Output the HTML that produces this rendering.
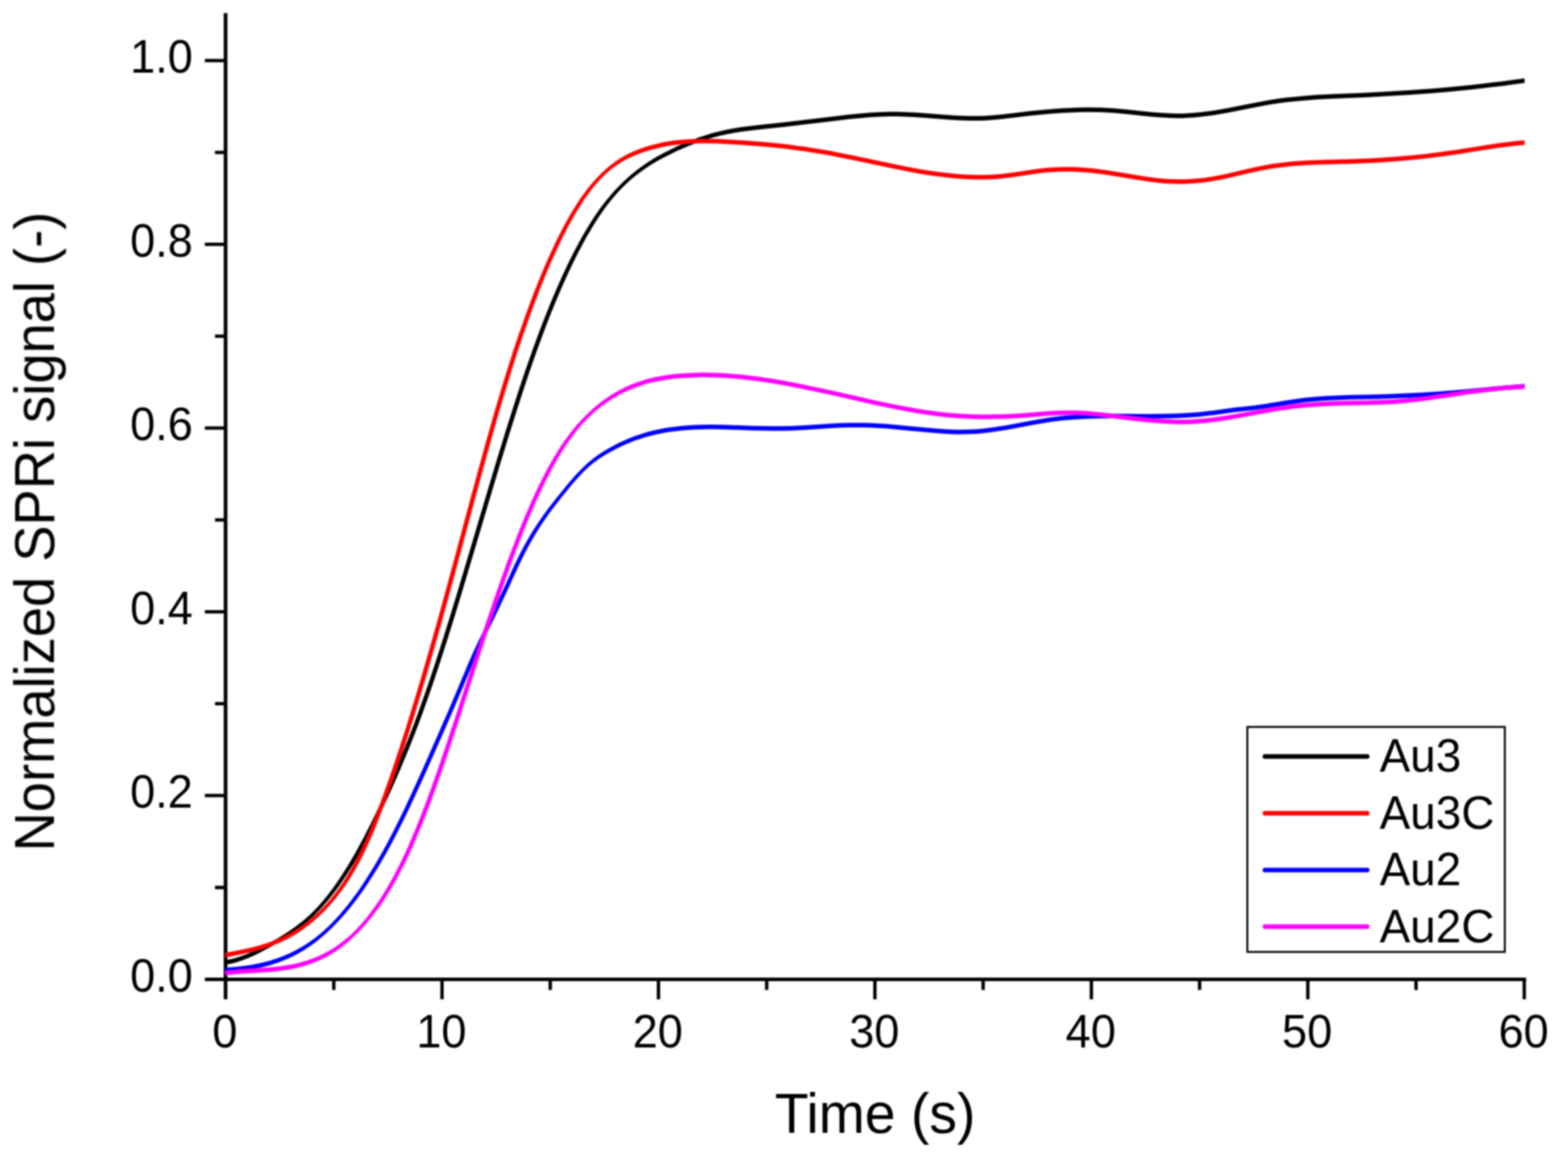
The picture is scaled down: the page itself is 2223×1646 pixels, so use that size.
<!DOCTYPE html>
<html lang="en"><head><meta charset="utf-8"><title>Normalized SPRi signal vs Time</title>
<style>
html,body{margin:0;padding:0;background:#fff;}
body{width:2223px;height:1646px;overflow:hidden;}
svg{display:block;}
text{font-family:"Liberation Sans",sans-serif;fill:#000;}
.ax{stroke:#000;stroke-width:5.2;fill:none;stroke-linecap:butt;}
.tk{stroke:#000;stroke-width:4.8;fill:none;stroke-linecap:butt;}
.c{fill:none;stroke-width:6.5;stroke-linejoin:round;stroke-linecap:butt;}
.k{fill:none;stroke-width:6.5;stroke-linecap:round;}
</style></head><body>
<svg width="2223" height="1646" viewBox="0 0 2223 1646">
<defs>
<clipPath id="plot"><rect x="319.2" y="0" width="1842.2" height="1388.5"/></clipPath>
<filter id="soft" filterUnits="userSpaceOnUse" x="-10" y="-10" width="2243" height="1666" color-interpolation-filters="sRGB"><feGaussianBlur in="SourceGraphic" stdDeviation="1.0"/></filter>
</defs>
<rect width="2223" height="1646" fill="#fff"/>
<g filter="url(#soft)">
<path class="ax" d="M319.8,18.6 V1416.7"/>
<path class="ax" d="M290.4,1388.5 H2163.6"/>
<path class="tk" d="M473.23,1388.5 v15.0 M626.67,1388.5 v28.2 M780.10,1388.5 v15.0 M933.53,1388.5 v28.2 M1086.97,1388.5 v15.0 M1240.40,1388.5 v28.2 M1393.83,1388.5 v15.0 M1547.27,1388.5 v28.2 M1700.70,1388.5 v15.0 M1854.13,1388.5 v28.2 M2007.57,1388.5 v15.0 M2161.00,1388.5 v28.2 M319.8,1258.23 h-15.0 M319.8,1127.96 h-29.4 M319.8,997.69 h-15.0 M319.8,867.42 h-29.4 M319.8,737.15 h-15.0 M319.8,606.88 h-29.4 M319.8,476.61 h-15.0 M319.8,346.34 h-29.4 M319.8,216.07 h-15.0 M319.8,85.80 h-29.4"/>
<g clip-path="url(#plot)">
<path fill="#000" d="M318.8,1361.3 L324.8,1360.3 L330.8,1358.9 L336.8,1357.2 L344.8,1354.5 L350.8,1352.2 L358.8,1348.7 L364.8,1345.9 L372.8,1341.8 L382.8,1336.4 L392.8,1330.7 L400.8,1325.9 L408.8,1320.8 L416.8,1315.3 L422.8,1310.8 L430.8,1304.4 L436.8,1299.3 L442.8,1293.7 L446.8,1289.8 L452.8,1283.5 L456.8,1279.0 L460.8,1274.4 L466.8,1267.0 L470.8,1261.8 L476.8,1253.7 L480.8,1248.0 L486.8,1239.1 L490.8,1232.9 L496.8,1223.2 L500.8,1216.5 L506.8,1206.2 L512.8,1195.4 L518.8,1184.2 L528.8,1164.7 L534.8,1152.5 L540.8,1139.9 L546.8,1127.0 L552.8,1113.8 L558.8,1100.2 L564.8,1086.3 L574.8,1062.4 L584.8,1037.3 L590.8,1021.6 L594.8,1010.8 L604.8,982.9 L612.8,959.5 L622.8,929.2 L630.8,904.2 L640.8,872.1 L648.8,845.9 L658.8,812.7 L692.8,698.2 L706.8,651.6 L720.8,606.0 L732.8,568.1 L740.8,543.7 L746.8,525.8 L752.8,508.5 L758.8,491.6 L766.8,469.8 L772.8,454.1 L778.8,438.8 L784.8,424.1 L792.8,405.2 L800.8,387.3 L808.8,370.3 L816.8,354.3 L824.8,339.2 L828.8,332.0 L832.8,325.1 L836.8,318.4 L840.8,312.0 L846.8,302.8 L850.8,297.0 L854.8,291.4 L858.8,286.1 L862.8,281.0 L866.8,276.1 L870.8,271.5 L874.8,267.1 L878.8,262.9 L882.8,258.8 L886.8,255.0 L890.8,251.3 L896.8,246.1 L904.8,239.7 L908.8,236.8 L914.8,232.5 L920.8,228.6 L926.8,224.8 L932.8,221.3 L938.8,218.0 L944.8,214.9 L952.8,210.9 L960.8,207.1 L966.8,204.5 L974.8,201.1 L980.8,198.7 L988.8,195.6 L994.8,193.5 L1002.8,190.9 L1008.8,189.1 L1016.8,186.9 L1022.8,185.4 L1030.8,183.7 L1038.8,182.2 L1048.8,180.6 L1058.8,179.2 L1070.8,177.8 L1112.8,173.2 L1186.8,164.4 L1202.8,162.6 L1216.8,161.2 L1232.8,159.8 L1246.8,158.9 L1260.8,158.5 L1272.8,158.5 L1284.8,158.9 L1296.8,159.5 L1310.8,160.5 L1342.8,163.0 L1358.8,164.0 L1366.8,164.3 L1374.8,164.5 L1382.8,164.6 L1390.8,164.5 L1400.8,164.0 L1412.8,163.0 L1422.8,162.0 L1462.8,157.3 L1478.8,155.7 L1492.8,154.5 L1506.8,153.5 L1518.8,152.9 L1530.8,152.5 L1542.8,152.3 L1552.8,152.4 L1560.8,152.6 L1568.8,153.0 L1578.8,153.6 L1594.8,155.0 L1632.8,158.9 L1642.8,159.7 L1650.8,160.3 L1660.8,160.7 L1668.8,160.9 L1676.8,160.9 L1684.8,160.6 L1692.8,160.1 L1702.8,159.1 L1710.8,158.1 L1720.8,156.7 L1730.8,155.0 L1740.8,153.2 L1782.8,145.0 L1798.8,142.1 L1806.8,140.7 L1814.8,139.5 L1822.8,138.5 L1832.8,137.4 L1848.8,135.9 L1866.8,134.6 L1886.8,133.6 L1936.8,131.5 L1962.8,130.1 L1996.8,128.0 L2028.8,125.7 L2046.8,124.2 L2062.8,122.7 L2080.8,120.9 L2096.8,119.2 L2114.8,117.1 L2130.8,115.2 L2146.8,113.1 L2162.8,110.8 L2162.8,117.3 L2146.8,119.6 L2130.8,121.7 L2114.8,123.6 L2096.8,125.7 L2080.8,127.4 L2062.8,129.2 L2046.8,130.7 L2028.8,132.2 L1996.8,134.5 L1962.8,136.6 L1936.8,138.0 L1886.8,140.1 L1866.8,141.1 L1848.8,142.4 L1832.8,143.9 L1822.8,145.0 L1814.8,146.0 L1806.8,147.2 L1798.8,148.6 L1782.8,151.5 L1740.8,159.7 L1730.8,161.5 L1720.8,163.2 L1710.8,164.6 L1702.8,165.6 L1692.8,166.6 L1684.8,167.1 L1676.8,167.4 L1668.8,167.4 L1660.8,167.2 L1650.8,166.8 L1642.8,166.2 L1632.8,165.4 L1594.8,161.5 L1578.8,160.1 L1568.8,159.5 L1560.8,159.1 L1552.8,158.9 L1542.8,158.8 L1530.8,159.0 L1518.8,159.4 L1506.8,160.0 L1492.8,161.0 L1478.8,162.2 L1462.8,163.8 L1422.8,168.5 L1412.8,169.5 L1400.8,170.5 L1390.8,171.0 L1382.8,171.1 L1374.8,171.0 L1366.8,170.8 L1358.8,170.5 L1342.8,169.5 L1310.8,167.0 L1296.8,166.0 L1284.8,165.4 L1272.8,165.0 L1260.8,165.0 L1246.8,165.4 L1232.8,166.3 L1216.8,167.7 L1202.8,169.1 L1186.8,170.9 L1112.8,179.7 L1070.8,184.3 L1058.8,185.7 L1048.8,187.1 L1038.8,188.7 L1030.8,190.2 L1022.8,191.9 L1016.8,193.4 L1008.8,195.6 L1002.8,197.4 L994.8,200.0 L988.8,202.1 L980.8,205.2 L974.8,207.6 L966.8,211.0 L960.8,213.6 L952.8,217.4 L944.8,221.4 L938.8,224.5 L932.8,227.8 L926.8,231.3 L920.8,235.1 L914.8,239.0 L908.8,243.3 L904.8,246.2 L896.8,252.6 L890.8,257.8 L886.8,261.5 L882.8,265.3 L878.8,269.4 L874.8,273.6 L870.8,278.0 L866.8,282.6 L862.8,287.5 L858.8,292.6 L854.8,297.9 L850.8,303.5 L846.8,309.3 L840.8,318.5 L836.8,324.9 L832.8,331.6 L828.8,338.5 L824.8,345.7 L816.8,360.8 L808.8,376.8 L800.8,393.8 L792.8,411.7 L784.8,430.6 L778.8,445.3 L772.8,460.6 L766.8,476.3 L758.8,498.1 L752.8,515.0 L746.8,532.3 L740.8,550.2 L732.8,574.6 L720.8,612.5 L706.8,658.1 L692.8,704.7 L658.8,819.2 L648.8,852.4 L640.8,878.6 L630.8,910.7 L622.8,935.7 L612.8,966.0 L604.8,989.4 L594.8,1017.3 L590.8,1028.1 L584.8,1043.8 L574.8,1068.9 L564.8,1092.8 L558.8,1106.7 L552.8,1120.3 L546.8,1133.5 L540.8,1146.4 L534.8,1159.0 L528.8,1171.2 L518.8,1190.7 L512.8,1201.9 L506.8,1212.7 L500.8,1223.0 L496.8,1229.7 L490.8,1239.4 L486.8,1245.6 L480.8,1254.5 L476.8,1260.2 L470.8,1268.3 L466.8,1273.5 L460.8,1280.9 L456.8,1285.5 L452.8,1290.0 L446.8,1296.3 L442.8,1300.2 L436.8,1305.8 L430.8,1310.9 L422.8,1317.3 L416.8,1321.8 L408.8,1327.3 L400.8,1332.4 L392.8,1337.2 L382.8,1342.9 L372.8,1348.3 L364.8,1352.4 L358.8,1355.2 L350.8,1358.7 L344.8,1361.0 L336.8,1363.7 L330.8,1365.4 L324.8,1366.8 L318.8,1367.8Z"/>
<path fill="#000" d="M315.6,1364.6 L321.6,1363.5 L327.6,1362.1 L333.6,1360.5 L341.6,1357.8 L347.6,1355.4 L355.6,1352.0 L361.6,1349.1 L369.6,1345.1 L379.6,1339.7 L389.6,1334.0 L397.6,1329.1 L405.6,1324.0 L413.6,1318.5 L419.6,1314.1 L427.6,1307.7 L433.6,1302.5 L439.6,1296.9 L443.6,1293.0 L449.6,1286.7 L453.6,1282.3 L457.6,1277.6 L463.6,1270.2 L467.6,1265.1 L473.6,1256.9 L477.6,1251.2 L483.6,1242.3 L487.6,1236.1 L493.6,1226.5 L497.6,1219.8 L503.6,1209.4 L509.5,1198.6 L515.5,1187.4 L525.5,1167.9 L531.5,1155.7 L537.5,1143.1 L543.5,1130.2 L549.5,1117.0 L555.5,1103.5 L561.5,1089.6 L571.5,1065.6 L581.5,1040.5 L587.5,1024.8 L591.5,1014.1 L601.5,986.1 L609.5,962.7 L619.5,932.4 L627.5,907.4 L637.5,875.4 L645.5,849.2 L655.5,816.0 L689.5,701.5 L703.5,654.8 L717.5,609.2 L729.5,571.4 L737.5,546.9 L743.5,529.1 L749.5,511.7 L755.5,494.8 L763.5,473.1 L769.5,457.3 L775.5,442.1 L781.5,427.3 L789.5,408.5 L797.5,390.6 L805.5,373.6 L813.5,357.6 L821.5,342.5 L825.5,335.3 L829.5,328.4 L833.5,321.7 L837.5,315.2 L843.5,306.0 L847.5,300.2 L851.5,294.6 L855.5,289.3 L859.5,284.2 L863.5,279.4 L867.5,274.8 L871.5,270.3 L875.5,266.1 L879.5,262.1 L883.5,258.2 L887.5,254.6 L893.5,249.4 L901.5,243.0 L905.5,240.0 L911.5,235.8 L917.5,231.8 L923.5,228.1 L929.5,224.6 L935.5,221.2 L941.5,218.1 L949.5,214.1 L957.5,210.4 L963.5,207.7 L971.5,204.3 L977.5,201.9 L985.5,198.9 L991.5,196.8 L999.5,194.1 L1005.5,192.3 L1013.5,190.1 L1019.5,188.7 L1027.5,186.9 L1035.5,185.4 L1045.5,183.8 L1055.5,182.5 L1067.5,181.1 L1109.5,176.5 L1183.5,167.7 L1199.5,165.9 L1213.5,164.4 L1229.5,163.0 L1243.5,162.2 L1257.5,161.7 L1269.5,161.7 L1281.5,162.1 L1293.5,162.7 L1307.5,163.7 L1339.5,166.2 L1355.5,167.2 L1363.5,167.6 L1371.5,167.8 L1379.5,167.8 L1387.5,167.7 L1397.5,167.2 L1409.5,166.3 L1419.5,165.2 L1459.5,160.6 L1475.5,159.0 L1489.5,157.8 L1503.5,156.8 L1515.5,156.2 L1527.5,155.8 L1539.5,155.6 L1549.5,155.7 L1557.5,155.9 L1565.5,156.2 L1575.5,156.9 L1591.5,158.3 L1629.5,162.1 L1639.5,163.0 L1647.5,163.5 L1657.5,164.0 L1665.5,164.2 L1673.5,164.1 L1681.5,163.8 L1689.5,163.3 L1699.5,162.4 L1707.5,161.4 L1717.5,159.9 L1727.5,158.3 L1737.5,156.5 L1779.5,148.2 L1795.5,145.3 L1803.5,144.0 L1811.5,142.8 L1819.5,141.7 L1829.5,140.6 L1845.5,139.1 L1863.5,137.9 L1883.5,136.8 L1933.5,134.7 L1959.5,133.4 L1993.5,131.3 L2025.5,128.9 L2043.5,127.4 L2059.6,126.0 L2077.6,124.2 L2093.6,122.5 L2111.6,120.4 L2127.6,118.4 L2143.6,116.3 L2159.6,114.1 L2166.1,114.1 L2150.1,116.3 L2134.1,118.4 L2118.1,120.4 L2100.1,122.5 L2084.1,124.2 L2066.1,126.0 L2050.1,127.4 L2032.0,128.9 L2000.0,131.3 L1966.0,133.4 L1940.0,134.7 L1890.0,136.8 L1870.0,137.9 L1852.0,139.1 L1836.0,140.6 L1826.0,141.7 L1818.0,142.8 L1810.0,144.0 L1802.0,145.3 L1786.0,148.2 L1744.0,156.5 L1734.0,158.3 L1724.0,159.9 L1714.0,161.4 L1706.0,162.4 L1696.0,163.3 L1688.0,163.8 L1680.0,164.1 L1672.0,164.2 L1664.0,164.0 L1654.0,163.5 L1646.0,163.0 L1636.0,162.1 L1598.0,158.3 L1582.0,156.9 L1572.0,156.2 L1564.0,155.9 L1556.0,155.7 L1546.0,155.6 L1534.0,155.8 L1522.0,156.2 L1510.0,156.8 L1496.0,157.8 L1482.0,159.0 L1466.0,160.6 L1426.0,165.2 L1416.0,166.3 L1404.0,167.2 L1394.0,167.7 L1386.0,167.8 L1378.0,167.8 L1370.0,167.6 L1362.0,167.2 L1346.0,166.2 L1314.0,163.7 L1300.0,162.7 L1288.0,162.1 L1276.0,161.7 L1264.0,161.7 L1250.0,162.2 L1236.0,163.0 L1220.0,164.4 L1206.0,165.9 L1190.0,167.7 L1116.0,176.5 L1074.0,181.1 L1062.0,182.5 L1052.0,183.8 L1042.0,185.4 L1034.0,186.9 L1026.0,188.7 L1020.0,190.1 L1012.0,192.3 L1006.0,194.1 L998.0,196.8 L992.0,198.9 L984.0,201.9 L978.0,204.3 L970.0,207.7 L964.0,210.4 L956.0,214.1 L948.0,218.1 L942.0,221.2 L936.0,224.6 L930.0,228.1 L924.0,231.8 L918.0,235.8 L912.0,240.0 L908.0,243.0 L900.0,249.4 L894.0,254.6 L890.0,258.2 L886.0,262.1 L882.0,266.1 L878.0,270.3 L874.0,274.8 L870.0,279.4 L866.0,284.2 L862.0,289.3 L858.0,294.6 L854.0,300.2 L850.0,306.0 L844.0,315.2 L840.0,321.7 L836.0,328.4 L832.0,335.3 L828.0,342.5 L820.0,357.6 L812.0,373.6 L804.0,390.6 L796.0,408.5 L788.0,427.3 L782.0,442.1 L776.0,457.3 L770.0,473.1 L762.0,494.8 L756.0,511.7 L750.0,529.1 L744.0,546.9 L736.0,571.4 L724.0,609.2 L710.0,654.8 L696.0,701.5 L662.0,816.0 L652.0,849.2 L644.0,875.4 L634.0,907.4 L626.0,932.4 L616.0,962.7 L608.0,986.1 L598.0,1014.1 L594.0,1024.8 L588.0,1040.5 L578.0,1065.6 L568.0,1089.6 L562.0,1103.5 L556.0,1117.0 L550.0,1130.2 L544.0,1143.1 L538.0,1155.7 L532.0,1167.9 L522.0,1187.4 L516.0,1198.6 L510.1,1209.4 L504.1,1219.8 L500.1,1226.5 L494.1,1236.1 L490.1,1242.3 L484.1,1251.2 L480.1,1256.9 L474.1,1265.1 L470.1,1270.2 L464.1,1277.6 L460.1,1282.3 L456.1,1286.7 L450.1,1293.0 L446.1,1296.9 L440.1,1302.5 L434.1,1307.7 L426.1,1314.1 L420.1,1318.5 L412.1,1324.0 L404.1,1329.1 L396.1,1334.0 L386.1,1339.7 L376.1,1345.1 L368.1,1349.1 L362.1,1352.0 L354.1,1355.4 L348.1,1357.8 L340.1,1360.5 L334.1,1362.1 L328.1,1363.5 L322.1,1364.6Z"/>
<path fill="#f00" d="M318.8,1351.0 L330.8,1348.8 L340.8,1346.8 L348.8,1345.1 L356.8,1343.3 L364.8,1341.2 L370.8,1339.5 L378.8,1336.9 L384.8,1334.8 L392.8,1331.6 L398.8,1329.0 L404.8,1326.1 L410.8,1322.9 L416.8,1319.5 L422.8,1315.8 L428.8,1311.7 L432.8,1308.8 L438.8,1304.2 L444.8,1299.2 L450.8,1293.8 L454.8,1290.0 L460.8,1283.9 L464.8,1279.6 L470.8,1272.7 L474.8,1267.7 L480.8,1259.9 L484.8,1254.3 L488.8,1248.4 L492.8,1242.2 L498.8,1232.3 L502.8,1225.3 L506.8,1217.9 L510.8,1210.2 L514.8,1202.0 L518.8,1193.5 L522.8,1184.5 L526.8,1175.2 L530.8,1165.4 L534.8,1155.3 L542.8,1134.2 L552.8,1106.5 L562.8,1077.5 L572.8,1047.2 L582.8,1015.7 L592.8,983.1 L602.8,949.3 L612.8,914.6 L622.8,879.2 L632.8,843.0 L642.8,806.3 L672.8,694.6 L682.8,657.7 L694.8,614.3 L704.8,579.3 L712.8,552.3 L718.8,532.6 L724.8,513.5 L730.8,494.9 L736.8,476.9 L742.8,459.4 L748.8,442.5 L754.8,426.2 L762.8,405.4 L770.8,385.5 L778.8,366.8 L786.8,349.1 L794.8,332.5 L798.8,324.7 L802.8,317.1 L808.8,306.2 L812.8,299.3 L816.8,292.7 L822.8,283.3 L826.8,277.3 L830.8,271.7 L834.8,266.3 L838.8,261.2 L842.8,256.4 L846.8,251.9 L850.8,247.7 L854.8,243.7 L858.8,240.0 L862.8,236.5 L866.8,233.2 L870.8,230.2 L874.8,227.4 L878.8,224.8 L884.8,221.2 L890.8,218.1 L896.8,215.2 L904.8,211.9 L912.8,209.0 L920.8,206.5 L928.8,204.4 L938.8,202.1 L946.8,200.6 L956.8,199.1 L964.8,198.2 L974.8,197.4 L984.8,196.9 L994.8,196.7 L1004.8,196.8 L1016.8,197.1 L1030.8,197.7 L1048.8,198.8 L1066.8,200.1 L1084.8,201.6 L1100.8,203.1 L1114.8,204.6 L1128.8,206.4 L1142.8,208.3 L1152.8,209.9 L1162.8,211.5 L1174.8,213.6 L1186.8,215.9 L1210.8,220.8 L1266.8,232.6 L1282.8,235.8 L1296.8,238.4 L1312.8,241.2 L1326.8,243.3 L1340.8,245.1 L1354.8,246.5 L1368.8,247.5 L1376.8,247.8 L1382.8,248.0 L1390.8,248.0 L1396.8,248.0 L1408.8,247.4 L1418.8,246.7 L1428.8,245.6 L1438.8,244.2 L1466.8,240.1 L1474.8,239.0 L1482.8,238.1 L1490.8,237.5 L1500.8,236.9 L1508.8,236.8 L1518.8,236.8 L1526.8,237.1 L1536.8,237.7 L1546.8,238.6 L1556.8,239.7 L1564.8,240.8 L1574.8,242.3 L1618.8,249.5 L1630.8,251.2 L1640.8,252.4 L1650.8,253.4 L1660.8,254.0 L1668.8,254.2 L1678.8,254.2 L1688.8,253.8 L1698.8,253.0 L1708.8,251.9 L1714.8,251.0 L1720.8,250.1 L1728.8,248.6 L1738.8,246.5 L1772.8,238.4 L1786.8,235.4 L1794.8,233.9 L1802.8,232.6 L1810.8,231.4 L1818.8,230.4 L1826.8,229.6 L1834.8,228.8 L1842.8,228.2 L1852.8,227.6 L1872.8,226.7 L1918.8,225.4 L1942.8,224.4 L1956.8,223.7 L1970.8,222.8 L1984.8,221.7 L1998.8,220.5 L2020.8,218.3 L2040.8,215.8 L2062.8,212.7 L2106.8,205.8 L2124.8,203.1 L2134.8,201.8 L2144.8,200.6 L2154.8,199.6 L2162.8,198.9 L2162.8,205.4 L2154.8,206.1 L2144.8,207.1 L2134.8,208.3 L2124.8,209.6 L2106.8,212.3 L2062.8,219.2 L2040.8,222.3 L2020.8,224.8 L1998.8,227.0 L1984.8,228.2 L1970.8,229.3 L1956.8,230.2 L1942.8,230.9 L1918.8,231.9 L1872.8,233.2 L1852.8,234.1 L1842.8,234.7 L1834.8,235.3 L1826.8,236.1 L1818.8,236.9 L1810.8,237.9 L1802.8,239.1 L1794.8,240.4 L1786.8,241.9 L1772.8,244.9 L1738.8,253.0 L1728.8,255.1 L1720.8,256.6 L1714.8,257.5 L1708.8,258.4 L1698.8,259.5 L1688.8,260.3 L1678.8,260.7 L1668.8,260.7 L1660.8,260.5 L1650.8,259.9 L1640.8,258.9 L1630.8,257.7 L1618.8,256.0 L1574.8,248.8 L1564.8,247.3 L1556.8,246.2 L1546.8,245.1 L1536.8,244.2 L1526.8,243.6 L1518.8,243.3 L1508.8,243.3 L1500.8,243.4 L1490.8,244.0 L1482.8,244.6 L1474.8,245.5 L1466.8,246.6 L1438.8,250.7 L1428.8,252.1 L1418.8,253.2 L1408.8,253.9 L1396.8,254.5 L1390.8,254.5 L1382.8,254.5 L1376.8,254.3 L1368.8,254.0 L1354.8,253.0 L1340.8,251.6 L1326.8,249.8 L1312.8,247.7 L1296.8,244.9 L1282.8,242.3 L1266.8,239.1 L1210.8,227.3 L1186.8,222.4 L1174.8,220.1 L1162.8,218.0 L1152.8,216.4 L1142.8,214.8 L1128.8,212.9 L1114.8,211.1 L1100.8,209.6 L1084.8,208.1 L1066.8,206.6 L1048.8,205.3 L1030.8,204.2 L1016.8,203.6 L1004.8,203.3 L994.8,203.2 L984.8,203.4 L974.8,203.9 L964.8,204.7 L956.8,205.6 L946.8,207.1 L938.8,208.6 L928.8,210.9 L920.8,213.0 L912.8,215.5 L904.8,218.4 L896.8,221.7 L890.8,224.6 L884.8,227.7 L878.8,231.3 L874.8,233.9 L870.8,236.7 L866.8,239.7 L862.8,243.0 L858.8,246.5 L854.8,250.2 L850.8,254.2 L846.8,258.4 L842.8,262.9 L838.8,267.7 L834.8,272.8 L830.8,278.2 L826.8,283.8 L822.8,289.8 L816.8,299.2 L812.8,305.8 L808.8,312.7 L802.8,323.6 L798.8,331.2 L794.8,339.0 L786.8,355.6 L778.8,373.3 L770.8,392.0 L762.8,411.9 L754.8,432.7 L748.8,449.0 L742.8,465.9 L736.8,483.4 L730.8,501.4 L724.8,520.0 L718.8,539.1 L712.8,558.8 L704.8,585.8 L694.8,620.8 L682.8,664.2 L672.8,701.1 L642.8,812.8 L632.8,849.5 L622.8,885.7 L612.8,921.1 L602.8,955.8 L592.8,989.6 L582.8,1022.2 L572.8,1053.7 L562.8,1084.0 L552.8,1113.0 L542.8,1140.7 L534.8,1161.8 L530.8,1171.9 L526.8,1181.7 L522.8,1191.0 L518.8,1200.0 L514.8,1208.5 L510.8,1216.7 L506.8,1224.4 L502.8,1231.8 L498.8,1238.8 L492.8,1248.7 L488.8,1254.9 L484.8,1260.8 L480.8,1266.4 L474.8,1274.2 L470.8,1279.2 L464.8,1286.1 L460.8,1290.4 L454.8,1296.5 L450.8,1300.3 L444.8,1305.7 L438.8,1310.7 L432.8,1315.3 L428.8,1318.2 L422.8,1322.3 L416.8,1326.0 L410.8,1329.4 L404.8,1332.6 L398.8,1335.5 L392.8,1338.1 L384.8,1341.3 L378.8,1343.4 L370.8,1346.0 L364.8,1347.7 L356.8,1349.8 L348.8,1351.6 L340.8,1353.3 L330.8,1355.3 L318.8,1357.5Z"/>
<path fill="#f00" d="M315.6,1354.2 L327.6,1352.0 L337.6,1350.1 L345.6,1348.4 L353.6,1346.5 L361.6,1344.4 L367.6,1342.7 L375.6,1340.2 L381.6,1338.0 L389.6,1334.9 L395.6,1332.2 L401.6,1329.3 L407.6,1326.2 L413.6,1322.8 L419.6,1319.0 L425.6,1315.0 L429.6,1312.1 L435.6,1307.4 L441.6,1302.4 L447.6,1297.0 L451.6,1293.2 L457.6,1287.1 L461.6,1282.8 L467.6,1275.9 L471.6,1271.0 L477.6,1263.1 L481.6,1257.6 L485.6,1251.7 L489.6,1245.5 L495.6,1235.6 L499.6,1228.6 L503.6,1221.2 L507.6,1213.4 L511.5,1205.3 L515.5,1196.7 L519.5,1187.8 L523.5,1178.4 L527.5,1168.7 L531.5,1158.6 L539.5,1137.5 L549.5,1109.7 L559.5,1080.7 L569.5,1050.5 L579.5,1019.0 L589.5,986.3 L599.5,952.6 L609.5,917.9 L619.5,882.4 L629.5,846.3 L639.5,809.6 L669.5,697.8 L679.5,660.9 L691.5,617.6 L701.5,582.6 L709.5,555.5 L715.5,535.9 L721.5,516.7 L727.5,498.1 L733.5,480.1 L739.5,462.7 L745.5,445.8 L751.5,429.5 L759.5,408.6 L767.5,388.8 L775.5,370.1 L783.5,352.4 L791.5,335.8 L795.5,327.9 L799.5,320.3 L805.5,309.4 L809.5,302.5 L813.5,295.9 L819.5,286.5 L823.5,280.6 L827.5,274.9 L831.5,269.6 L835.5,264.5 L839.5,259.7 L843.5,255.2 L847.5,250.9 L851.5,246.9 L855.5,243.2 L859.5,239.7 L863.5,236.5 L867.5,233.5 L871.5,230.7 L875.5,228.0 L881.5,224.5 L887.5,221.3 L893.5,218.5 L901.5,215.2 L909.5,212.3 L917.5,209.8 L925.5,207.6 L935.5,205.4 L943.5,203.9 L953.5,202.4 L961.5,201.5 L971.5,200.7 L981.5,200.2 L991.5,200.0 L1001.5,200.0 L1013.5,200.3 L1027.5,200.9 L1045.5,202.0 L1063.5,203.3 L1081.5,204.8 L1097.5,206.4 L1111.5,207.9 L1125.5,209.6 L1139.5,211.6 L1149.5,213.1 L1159.5,214.8 L1171.5,216.9 L1183.5,219.2 L1207.5,224.0 L1263.5,235.8 L1279.5,239.0 L1293.5,241.7 L1309.5,244.4 L1323.5,246.5 L1337.5,248.3 L1351.5,249.8 L1365.5,250.7 L1373.5,251.1 L1379.5,251.2 L1387.5,251.3 L1393.5,251.2 L1405.5,250.7 L1415.5,249.9 L1425.5,248.8 L1435.5,247.5 L1463.5,243.3 L1471.5,242.3 L1479.5,241.4 L1487.5,240.7 L1497.5,240.2 L1505.5,240.0 L1515.5,240.1 L1523.5,240.3 L1533.5,240.9 L1543.5,241.8 L1553.5,242.9 L1561.5,244.0 L1571.5,245.5 L1615.5,252.8 L1627.5,254.5 L1637.5,255.7 L1647.5,256.6 L1657.5,257.2 L1665.5,257.5 L1675.5,257.4 L1685.5,257.0 L1695.5,256.2 L1705.5,255.1 L1711.5,254.3 L1717.5,253.3 L1725.5,251.8 L1735.5,249.7 L1769.5,241.7 L1783.5,238.6 L1791.5,237.1 L1799.5,235.8 L1807.5,234.7 L1815.5,233.7 L1823.5,232.8 L1831.5,232.1 L1839.5,231.5 L1849.5,230.9 L1869.5,230.0 L1915.5,228.6 L1939.5,227.7 L1953.5,226.9 L1967.5,226.0 L1981.5,225.0 L1995.5,223.8 L2017.5,221.5 L2037.5,219.1 L2059.6,216.0 L2103.6,209.0 L2121.6,206.4 L2131.6,205.0 L2141.6,203.9 L2151.6,202.8 L2159.6,202.1 L2166.1,202.1 L2158.1,202.8 L2148.1,203.9 L2138.1,205.0 L2128.1,206.4 L2110.1,209.0 L2066.1,216.0 L2044.0,219.1 L2024.0,221.5 L2002.0,223.8 L1988.0,225.0 L1974.0,226.0 L1960.0,226.9 L1946.0,227.7 L1922.0,228.6 L1876.0,230.0 L1856.0,230.9 L1846.0,231.5 L1838.0,232.1 L1830.0,232.8 L1822.0,233.7 L1814.0,234.7 L1806.0,235.8 L1798.0,237.1 L1790.0,238.6 L1776.0,241.7 L1742.0,249.7 L1732.0,251.8 L1724.0,253.3 L1718.0,254.3 L1712.0,255.1 L1702.0,256.2 L1692.0,257.0 L1682.0,257.4 L1672.0,257.5 L1664.0,257.2 L1654.0,256.6 L1644.0,255.7 L1634.0,254.5 L1622.0,252.8 L1578.0,245.5 L1568.0,244.0 L1560.0,242.9 L1550.0,241.8 L1540.0,240.9 L1530.0,240.3 L1522.0,240.1 L1512.0,240.0 L1504.0,240.2 L1494.0,240.7 L1486.0,241.4 L1478.0,242.3 L1470.0,243.3 L1442.0,247.5 L1432.0,248.8 L1422.0,249.9 L1412.0,250.7 L1400.0,251.2 L1394.0,251.3 L1386.0,251.2 L1380.0,251.1 L1372.0,250.7 L1358.0,249.8 L1344.0,248.3 L1330.0,246.5 L1316.0,244.4 L1300.0,241.7 L1286.0,239.0 L1270.0,235.8 L1214.0,224.0 L1190.0,219.2 L1178.0,216.9 L1166.0,214.8 L1156.0,213.1 L1146.0,211.6 L1132.0,209.6 L1118.0,207.9 L1104.0,206.4 L1088.0,204.8 L1070.0,203.3 L1052.0,202.0 L1034.0,200.9 L1020.0,200.3 L1008.0,200.0 L998.0,200.0 L988.0,200.2 L978.0,200.7 L968.0,201.5 L960.0,202.4 L950.0,203.9 L942.0,205.4 L932.0,207.6 L924.0,209.8 L916.0,212.3 L908.0,215.2 L900.0,218.5 L894.0,221.3 L888.0,224.5 L882.0,228.0 L878.0,230.7 L874.0,233.5 L870.0,236.5 L866.0,239.7 L862.0,243.2 L858.0,246.9 L854.0,250.9 L850.0,255.2 L846.0,259.7 L842.0,264.5 L838.0,269.6 L834.0,274.9 L830.0,280.6 L826.0,286.5 L820.0,295.9 L816.0,302.5 L812.0,309.4 L806.0,320.3 L802.0,327.9 L798.0,335.8 L790.0,352.4 L782.0,370.1 L774.0,388.8 L766.0,408.6 L758.0,429.5 L752.0,445.8 L746.0,462.7 L740.0,480.1 L734.0,498.1 L728.0,516.7 L722.0,535.9 L716.0,555.5 L708.0,582.6 L698.0,617.6 L686.0,660.9 L676.0,697.8 L646.0,809.6 L636.0,846.3 L626.0,882.4 L616.0,917.9 L606.0,952.6 L596.0,986.3 L586.0,1019.0 L576.0,1050.5 L566.0,1080.7 L556.0,1109.7 L546.0,1137.5 L538.0,1158.6 L534.0,1168.7 L530.0,1178.4 L526.0,1187.8 L522.0,1196.7 L518.0,1205.3 L514.0,1213.4 L510.1,1221.2 L506.1,1228.6 L502.1,1235.6 L496.1,1245.5 L492.1,1251.7 L488.1,1257.6 L484.1,1263.1 L478.1,1271.0 L474.1,1275.9 L468.1,1282.8 L464.1,1287.1 L458.1,1293.2 L454.1,1297.0 L448.1,1302.4 L442.1,1307.4 L436.1,1312.1 L432.1,1315.0 L426.1,1319.0 L420.1,1322.8 L414.1,1326.2 L408.1,1329.3 L402.1,1332.2 L396.1,1334.9 L388.1,1338.0 L382.1,1340.2 L374.1,1342.7 L368.1,1344.4 L360.1,1346.5 L352.1,1348.4 L344.1,1350.1 L334.1,1352.0 L322.1,1354.2Z"/>
<path fill="#00f" d="M318.8,1372.1 L328.8,1371.3 L336.8,1370.5 L344.8,1369.5 L350.8,1368.7 L358.8,1367.4 L364.8,1366.2 L370.8,1364.9 L376.8,1363.5 L382.8,1361.9 L388.8,1360.0 L394.8,1358.0 L398.8,1356.5 L404.8,1354.1 L410.8,1351.5 L416.8,1348.6 L420.8,1346.5 L426.8,1343.1 L430.8,1340.7 L436.8,1336.8 L440.8,1334.1 L446.8,1329.7 L450.8,1326.5 L456.8,1321.5 L460.8,1318.0 L466.8,1312.4 L470.8,1308.5 L476.8,1302.3 L480.8,1298.0 L486.8,1291.1 L490.8,1286.4 L496.8,1278.9 L500.8,1273.8 L506.8,1265.7 L510.8,1260.1 L518.8,1248.4 L526.8,1236.0 L534.8,1223.0 L542.8,1209.2 L550.8,1194.7 L558.8,1179.6 L568.8,1159.7 L576.8,1143.1 L586.8,1121.8 L598.8,1095.4 L610.8,1068.5 L626.8,1032.2 L638.8,1004.6 L650.8,976.5 L666.8,938.4 L672.8,924.6 L676.8,915.8 L682.8,903.1 L698.8,870.4 L706.8,853.7 L714.8,836.6 L730.8,801.8 L736.8,789.2 L740.8,781.2 L744.8,773.5 L748.8,766.2 L752.8,759.2 L758.8,749.3 L762.8,743.0 L766.8,737.0 L774.8,725.5 L782.8,714.8 L792.8,702.0 L806.8,684.8 L812.8,677.8 L816.8,673.3 L820.8,668.9 L824.8,664.7 L830.8,658.8 L836.8,653.5 L842.8,648.7 L846.8,645.8 L850.8,643.1 L858.8,638.0 L866.8,633.4 L874.8,629.2 L878.8,627.2 L884.8,624.4 L888.8,622.7 L894.8,620.2 L900.8,617.9 L906.8,615.9 L916.8,612.8 L922.8,611.2 L928.8,609.7 L934.8,608.4 L940.8,607.3 L946.8,606.2 L952.8,605.4 L964.8,604.0 L976.8,603.0 L984.8,602.6 L994.8,602.3 L1002.8,602.1 L1012.8,602.1 L1032.8,602.5 L1066.8,603.7 L1080.8,604.1 L1094.8,604.3 L1106.8,604.2 L1120.8,603.9 L1136.8,603.2 L1148.8,602.5 L1178.8,600.6 L1192.8,599.8 L1206.8,599.4 L1220.8,599.4 L1228.8,599.5 L1238.8,599.9 L1246.8,600.4 L1256.8,601.1 L1274.8,602.7 L1314.8,606.6 L1326.8,607.6 L1336.8,608.3 L1348.8,608.9 L1358.8,609.2 L1368.8,609.1 L1378.8,608.8 L1384.8,608.4 L1392.8,607.7 L1400.8,606.8 L1408.8,605.8 L1416.8,604.6 L1426.8,602.9 L1466.8,595.5 L1482.8,592.7 L1490.8,591.6 L1498.8,590.5 L1506.8,589.6 L1516.8,588.7 L1526.8,588.0 L1536.8,587.5 L1546.8,587.1 L1556.8,586.8 L1578.8,586.6 L1626.8,586.9 L1646.8,586.8 L1658.8,586.6 L1668.8,586.2 L1678.8,585.8 L1686.8,585.3 L1698.8,584.4 L1710.8,583.1 L1720.8,581.9 L1750.8,577.7 L1772.8,575.4 L1780.8,574.4 L1794.8,572.4 L1824.8,567.5 L1836.8,565.7 L1848.8,564.1 L1862.8,562.7 L1878.8,561.5 L1894.8,560.7 L1912.8,560.1 L1952.8,559.2 L1972.8,558.5 L1996.8,557.5 L2020.8,556.2 L2040.8,554.9 L2058.8,553.5 L2076.8,551.9 L2130.8,546.8 L2146.8,545.4 L2162.8,544.3 L2162.8,550.8 L2146.8,551.9 L2130.8,553.3 L2076.8,558.4 L2058.8,560.0 L2040.8,561.4 L2020.8,562.7 L1996.8,564.0 L1972.8,565.0 L1952.8,565.7 L1912.8,566.6 L1894.8,567.2 L1878.8,568.0 L1862.8,569.2 L1848.8,570.6 L1836.8,572.2 L1824.8,574.0 L1794.8,578.9 L1780.8,580.9 L1772.8,581.9 L1750.8,584.2 L1720.8,588.4 L1710.8,589.6 L1698.8,590.9 L1686.8,591.8 L1678.8,592.3 L1668.8,592.7 L1658.8,593.1 L1646.8,593.3 L1626.8,593.4 L1578.8,593.1 L1556.8,593.3 L1546.8,593.6 L1536.8,594.0 L1526.8,594.5 L1516.8,595.2 L1506.8,596.1 L1498.8,597.0 L1490.8,598.1 L1482.8,599.2 L1466.8,602.0 L1426.8,609.4 L1416.8,611.1 L1408.8,612.3 L1400.8,613.3 L1392.8,614.2 L1384.8,614.9 L1378.8,615.3 L1368.8,615.6 L1358.8,615.7 L1348.8,615.4 L1336.8,614.8 L1326.8,614.1 L1314.8,613.1 L1274.8,609.2 L1256.8,607.6 L1246.8,606.9 L1238.8,606.4 L1228.8,606.0 L1220.8,605.9 L1206.8,605.9 L1192.8,606.3 L1178.8,607.1 L1148.8,609.0 L1136.8,609.7 L1120.8,610.4 L1106.8,610.7 L1094.8,610.8 L1080.8,610.6 L1066.8,610.2 L1032.8,609.0 L1012.8,608.6 L1002.8,608.6 L994.8,608.8 L984.8,609.1 L976.8,609.5 L964.8,610.5 L952.8,611.9 L946.8,612.7 L940.8,613.8 L934.8,614.9 L928.8,616.2 L922.8,617.7 L916.8,619.3 L906.8,622.4 L900.8,624.4 L894.8,626.7 L888.8,629.2 L884.8,630.9 L878.8,633.7 L874.8,635.7 L866.8,639.9 L858.8,644.5 L850.8,649.6 L846.8,652.3 L842.8,655.2 L836.8,660.0 L830.8,665.3 L824.8,671.2 L820.8,675.4 L816.8,679.8 L812.8,684.3 L806.8,691.3 L792.8,708.5 L782.8,721.3 L774.8,732.0 L766.8,743.5 L762.8,749.5 L758.8,755.8 L752.8,765.7 L748.8,772.7 L744.8,780.0 L740.8,787.7 L736.8,795.7 L730.8,808.3 L714.8,843.1 L706.8,860.2 L698.8,876.9 L682.8,909.6 L676.8,922.3 L672.8,931.1 L666.8,944.9 L650.8,983.0 L638.8,1011.1 L626.8,1038.7 L610.8,1075.0 L598.8,1101.9 L586.8,1128.3 L576.8,1149.6 L568.8,1166.2 L558.8,1186.1 L550.8,1201.2 L542.8,1215.7 L534.8,1229.5 L526.8,1242.5 L518.8,1254.9 L510.8,1266.6 L506.8,1272.2 L500.8,1280.3 L496.8,1285.4 L490.8,1292.9 L486.8,1297.6 L480.8,1304.5 L476.8,1308.8 L470.8,1315.0 L466.8,1318.9 L460.8,1324.5 L456.8,1328.0 L450.8,1333.0 L446.8,1336.2 L440.8,1340.6 L436.8,1343.3 L430.8,1347.2 L426.8,1349.6 L420.8,1353.0 L416.8,1355.1 L410.8,1358.0 L404.8,1360.6 L398.8,1363.0 L394.8,1364.5 L388.8,1366.5 L382.8,1368.4 L376.8,1370.0 L370.8,1371.4 L364.8,1372.7 L358.8,1373.9 L350.8,1375.2 L344.8,1376.0 L336.8,1377.0 L328.8,1377.8 L318.8,1378.6Z"/>
<path fill="#00f" d="M315.6,1375.4 L325.6,1374.5 L333.6,1373.7 L341.6,1372.8 L347.6,1371.9 L355.6,1370.6 L361.6,1369.5 L367.6,1368.2 L373.6,1366.7 L379.6,1365.1 L385.6,1363.3 L391.6,1361.3 L395.6,1359.8 L401.6,1357.4 L407.6,1354.7 L413.6,1351.8 L417.6,1349.7 L423.6,1346.4 L427.6,1344.0 L433.6,1340.1 L437.6,1337.3 L443.6,1332.9 L447.6,1329.8 L453.6,1324.8 L457.6,1321.3 L463.6,1315.7 L467.6,1311.7 L473.6,1305.5 L477.6,1301.2 L483.6,1294.4 L487.6,1289.6 L493.6,1282.2 L497.6,1277.0 L503.6,1269.0 L507.6,1263.4 L515.5,1251.7 L523.5,1239.3 L531.5,1226.2 L539.5,1212.5 L547.5,1198.0 L555.5,1182.8 L565.5,1162.9 L573.5,1146.4 L583.5,1125.0 L595.5,1098.7 L607.5,1071.8 L623.5,1035.4 L635.5,1007.9 L647.5,979.8 L663.5,941.6 L669.5,927.8 L673.5,919.0 L679.5,906.4 L695.5,873.7 L703.5,857.0 L711.5,839.9 L727.5,805.1 L733.5,792.5 L737.5,784.4 L741.5,776.8 L745.5,769.5 L749.5,762.5 L755.5,752.6 L759.5,746.3 L763.5,740.2 L771.5,728.8 L779.5,718.0 L789.5,705.2 L803.5,688.1 L809.5,681.0 L813.5,676.5 L817.5,672.1 L821.5,668.0 L827.5,662.1 L833.5,656.7 L839.5,652.0 L843.5,649.1 L847.5,646.3 L855.5,641.3 L863.5,636.6 L871.5,632.4 L875.5,630.4 L881.5,627.7 L885.5,625.9 L891.5,623.5 L897.5,621.2 L903.5,619.1 L913.5,616.0 L919.5,614.4 L925.5,613.0 L931.5,611.7 L937.5,610.5 L943.5,609.5 L949.5,608.6 L961.5,607.2 L973.5,606.3 L981.5,605.8 L991.5,605.5 L999.5,605.4 L1009.5,605.4 L1029.5,605.8 L1063.5,606.9 L1077.5,607.3 L1091.5,607.5 L1103.5,607.4 L1117.5,607.1 L1133.5,606.4 L1145.5,605.7 L1175.5,603.8 L1189.5,603.1 L1203.5,602.6 L1217.5,602.6 L1225.5,602.8 L1235.5,603.2 L1243.5,603.6 L1253.5,604.3 L1271.5,605.9 L1311.5,609.9 L1323.5,610.9 L1333.5,611.6 L1345.5,612.2 L1355.5,612.4 L1365.5,612.4 L1375.5,612.0 L1381.5,611.7 L1389.5,611.0 L1397.5,610.1 L1405.5,609.0 L1413.5,607.8 L1423.5,606.1 L1463.5,598.7 L1479.5,596.0 L1487.5,594.8 L1495.5,593.8 L1503.5,592.9 L1513.5,592.0 L1523.5,591.3 L1533.5,590.7 L1543.5,590.3 L1553.5,590.1 L1575.5,589.9 L1623.5,590.1 L1643.5,590.0 L1655.5,589.8 L1665.5,589.5 L1675.5,589.0 L1683.5,588.6 L1695.5,587.6 L1707.5,586.4 L1717.5,585.1 L1747.5,581.0 L1769.5,578.6 L1777.5,577.7 L1791.5,575.7 L1821.5,570.8 L1833.5,568.9 L1845.5,567.4 L1859.5,565.9 L1875.5,564.8 L1891.5,563.9 L1909.5,563.3 L1949.5,562.4 L1969.5,561.8 L1993.5,560.8 L2017.5,559.5 L2037.5,558.1 L2055.6,556.7 L2073.6,555.1 L2127.6,550.0 L2143.6,548.7 L2159.6,547.5 L2166.1,547.5 L2150.1,548.7 L2134.1,550.0 L2080.1,555.1 L2062.1,556.7 L2044.0,558.1 L2024.0,559.5 L2000.0,560.8 L1976.0,561.8 L1956.0,562.4 L1916.0,563.3 L1898.0,563.9 L1882.0,564.8 L1866.0,565.9 L1852.0,567.4 L1840.0,568.9 L1828.0,570.8 L1798.0,575.7 L1784.0,577.7 L1776.0,578.6 L1754.0,581.0 L1724.0,585.1 L1714.0,586.4 L1702.0,587.6 L1690.0,588.6 L1682.0,589.0 L1672.0,589.5 L1662.0,589.8 L1650.0,590.0 L1630.0,590.1 L1582.0,589.9 L1560.0,590.1 L1550.0,590.3 L1540.0,590.7 L1530.0,591.3 L1520.0,592.0 L1510.0,592.9 L1502.0,593.8 L1494.0,594.8 L1486.0,596.0 L1470.0,598.7 L1430.0,606.1 L1420.0,607.8 L1412.0,609.0 L1404.0,610.1 L1396.0,611.0 L1388.0,611.7 L1382.0,612.0 L1372.0,612.4 L1362.0,612.4 L1352.0,612.2 L1340.0,611.6 L1330.0,610.9 L1318.0,609.9 L1278.0,605.9 L1260.0,604.3 L1250.0,603.6 L1242.0,603.2 L1232.0,602.8 L1224.0,602.6 L1210.0,602.6 L1196.0,603.1 L1182.0,603.8 L1152.0,605.7 L1140.0,606.4 L1124.0,607.1 L1110.0,607.4 L1098.0,607.5 L1084.0,607.3 L1070.0,606.9 L1036.0,605.8 L1016.0,605.4 L1006.0,605.4 L998.0,605.5 L988.0,605.8 L980.0,606.3 L968.0,607.2 L956.0,608.6 L950.0,609.5 L944.0,610.5 L938.0,611.7 L932.0,613.0 L926.0,614.4 L920.0,616.0 L910.0,619.1 L904.0,621.2 L898.0,623.5 L892.0,625.9 L888.0,627.7 L882.0,630.4 L878.0,632.4 L870.0,636.6 L862.0,641.3 L854.0,646.3 L850.0,649.1 L846.0,652.0 L840.0,656.7 L834.0,662.1 L828.0,668.0 L824.0,672.1 L820.0,676.5 L816.0,681.0 L810.0,688.1 L796.0,705.2 L786.0,718.0 L778.0,728.8 L770.0,740.2 L766.0,746.3 L762.0,752.6 L756.0,762.5 L752.0,769.5 L748.0,776.8 L744.0,784.4 L740.0,792.5 L734.0,805.1 L718.0,839.9 L710.0,857.0 L702.0,873.7 L686.0,906.4 L680.0,919.0 L676.0,927.8 L670.0,941.6 L654.0,979.8 L642.0,1007.9 L630.0,1035.4 L614.0,1071.8 L602.0,1098.7 L590.0,1125.0 L580.0,1146.4 L572.0,1162.9 L562.0,1182.8 L554.0,1198.0 L546.0,1212.5 L538.0,1226.2 L530.0,1239.3 L522.0,1251.7 L514.0,1263.4 L510.1,1269.0 L504.1,1277.0 L500.1,1282.2 L494.1,1289.6 L490.1,1294.4 L484.1,1301.2 L480.1,1305.5 L474.1,1311.7 L470.1,1315.7 L464.1,1321.3 L460.1,1324.8 L454.1,1329.8 L450.1,1332.9 L444.1,1337.3 L440.1,1340.1 L434.1,1344.0 L430.1,1346.4 L424.1,1349.7 L420.1,1351.8 L414.1,1354.7 L408.1,1357.4 L402.1,1359.8 L398.1,1361.3 L392.1,1363.3 L386.1,1365.1 L380.1,1366.7 L374.1,1368.2 L368.1,1369.5 L362.1,1370.6 L354.1,1371.9 L348.1,1372.8 L340.1,1373.7 L332.1,1374.5 L322.1,1375.4Z"/>
<path fill="#f0f" d="M318.8,1376.3 L328.8,1375.2 L338.8,1374.3 L370.8,1372.3 L382.8,1371.4 L394.8,1370.2 L404.8,1368.8 L412.8,1367.4 L418.8,1366.2 L424.8,1364.7 L430.8,1363.1 L436.8,1361.2 L442.8,1359.1 L448.8,1356.7 L452.8,1355.0 L458.8,1352.1 L464.8,1348.9 L470.8,1345.4 L474.8,1342.9 L480.8,1338.8 L486.8,1334.3 L492.8,1329.4 L496.8,1325.9 L502.8,1320.2 L506.8,1316.2 L512.8,1309.9 L516.8,1305.3 L522.8,1298.1 L526.8,1293.1 L532.8,1285.0 L536.8,1279.3 L540.8,1273.4 L544.8,1267.2 L548.8,1260.8 L552.8,1254.1 L556.8,1247.1 L560.8,1239.9 L564.8,1232.3 L568.8,1224.5 L572.8,1216.4 L576.8,1208.0 L580.8,1199.3 L584.8,1190.3 L592.8,1171.3 L600.8,1151.2 L606.8,1135.5 L614.8,1113.7 L622.8,1091.0 L630.8,1067.7 L638.8,1043.8 L646.8,1019.5 L674.8,933.1 L688.8,890.4 L702.8,848.8 L714.8,814.4 L722.8,792.3 L728.8,776.2 L736.8,755.5 L742.8,740.5 L748.8,726.1 L754.8,712.2 L760.8,698.8 L766.8,686.1 L770.8,678.0 L774.8,670.1 L780.8,658.9 L784.8,651.7 L788.8,644.8 L794.8,635.0 L800.8,625.9 L804.8,620.1 L808.8,614.6 L814.8,606.9 L818.8,602.0 L822.8,597.4 L826.8,593.1 L830.8,588.9 L834.8,584.9 L838.8,581.2 L842.8,577.6 L846.8,574.3 L850.8,571.1 L854.8,568.0 L862.8,562.4 L866.8,559.8 L872.8,556.2 L880.8,551.8 L884.8,549.8 L890.8,547.0 L896.8,544.4 L904.8,541.4 L910.8,539.4 L918.8,537.1 L924.8,535.6 L932.8,533.9 L940.8,532.4 L948.8,531.3 L956.8,530.3 L966.8,529.5 L976.8,528.9 L986.8,528.5 L996.8,528.3 L1006.8,528.4 L1016.8,528.7 L1028.8,529.3 L1036.8,529.9 L1046.8,530.7 L1056.8,531.7 L1066.8,532.9 L1076.8,534.2 L1086.8,535.7 L1096.8,537.3 L1108.8,539.3 L1130.8,543.5 L1154.8,548.4 L1180.8,554.1 L1240.8,567.7 L1258.8,571.5 L1274.8,574.8 L1292.8,578.1 L1308.8,580.8 L1324.8,583.0 L1340.8,584.9 L1356.8,586.3 L1364.8,586.8 L1374.8,587.2 L1390.8,587.7 L1398.8,587.7 L1408.8,587.6 L1424.8,587.2 L1440.8,586.4 L1454.8,585.5 L1484.8,583.1 L1498.8,582.3 L1506.8,582.0 L1512.8,581.9 L1524.8,582.0 L1532.8,582.3 L1540.8,582.8 L1556.8,584.2 L1572.8,585.9 L1614.8,590.9 L1626.8,592.2 L1636.8,593.1 L1648.8,594.1 L1658.8,594.6 L1668.8,594.9 L1676.8,595.0 L1688.8,594.7 L1698.8,594.1 L1710.8,593.0 L1724.8,591.3 L1736.8,589.5 L1748.8,587.4 L1790.8,579.7 L1808.8,576.6 L1824.8,574.2 L1832.8,573.1 L1842.8,572.0 L1850.8,571.3 L1860.8,570.4 L1870.8,569.8 L1880.8,569.2 L1898.8,568.6 L1936.8,567.8 L1954.8,567.2 L1972.8,566.4 L1988.8,565.2 L2002.8,563.8 L2018.8,561.9 L2034.8,559.6 L2078.8,553.1 L2092.8,551.2 L2106.8,549.5 L2120.8,547.9 L2134.8,546.6 L2148.8,545.5 L2162.8,544.7 L2162.8,551.2 L2148.8,552.0 L2134.8,553.1 L2120.8,554.4 L2106.8,556.0 L2092.8,557.7 L2078.8,559.6 L2034.8,566.1 L2018.8,568.4 L2002.8,570.3 L1988.8,571.7 L1972.8,572.9 L1954.8,573.7 L1936.8,574.3 L1898.8,575.1 L1880.8,575.7 L1870.8,576.3 L1860.8,576.9 L1850.8,577.8 L1842.8,578.5 L1832.8,579.6 L1824.8,580.7 L1808.8,583.1 L1790.8,586.2 L1748.8,593.9 L1736.8,596.0 L1724.8,597.8 L1710.8,599.5 L1698.8,600.6 L1688.8,601.2 L1676.8,601.5 L1668.8,601.4 L1658.8,601.1 L1648.8,600.6 L1636.8,599.6 L1626.8,598.7 L1614.8,597.4 L1572.8,592.4 L1556.8,590.7 L1540.8,589.3 L1532.8,588.8 L1524.8,588.5 L1512.8,588.4 L1506.8,588.5 L1498.8,588.8 L1484.8,589.6 L1454.8,592.0 L1440.8,592.9 L1424.8,593.7 L1408.8,594.1 L1398.8,594.2 L1390.8,594.2 L1374.8,593.7 L1364.8,593.3 L1356.8,592.8 L1340.8,591.4 L1324.8,589.5 L1308.8,587.3 L1292.8,584.6 L1274.8,581.3 L1258.8,578.0 L1240.8,574.2 L1180.8,560.6 L1154.8,554.9 L1130.8,550.0 L1108.8,545.8 L1096.8,543.8 L1086.8,542.2 L1076.8,540.7 L1066.8,539.4 L1056.8,538.2 L1046.8,537.2 L1036.8,536.4 L1028.8,535.8 L1016.8,535.2 L1006.8,534.9 L996.8,534.8 L986.8,535.0 L976.8,535.4 L966.8,536.0 L956.8,536.8 L948.8,537.8 L940.8,538.9 L932.8,540.4 L924.8,542.1 L918.8,543.6 L910.8,545.9 L904.8,547.9 L896.8,550.9 L890.8,553.5 L884.8,556.3 L880.8,558.3 L872.8,562.7 L866.8,566.3 L862.8,568.9 L854.8,574.5 L850.8,577.6 L846.8,580.8 L842.8,584.1 L838.8,587.7 L834.8,591.4 L830.8,595.4 L826.8,599.6 L822.8,603.9 L818.8,608.5 L814.8,613.4 L808.8,621.1 L804.8,626.6 L800.8,632.4 L794.8,641.5 L788.8,651.3 L784.8,658.2 L780.8,665.4 L774.8,676.6 L770.8,684.5 L766.8,692.6 L760.8,705.3 L754.8,718.7 L748.8,732.6 L742.8,747.0 L736.8,762.0 L728.8,782.7 L722.8,798.8 L714.8,820.9 L702.8,855.3 L688.8,896.9 L674.8,939.6 L646.8,1026.0 L638.8,1050.3 L630.8,1074.2 L622.8,1097.5 L614.8,1120.2 L606.8,1142.0 L600.8,1157.7 L592.8,1177.8 L584.8,1196.8 L580.8,1205.8 L576.8,1214.5 L572.8,1222.9 L568.8,1231.0 L564.8,1238.8 L560.8,1246.4 L556.8,1253.6 L552.8,1260.6 L548.8,1267.3 L544.8,1273.7 L540.8,1279.9 L536.8,1285.8 L532.8,1291.5 L526.8,1299.6 L522.8,1304.6 L516.8,1311.8 L512.8,1316.4 L506.8,1322.7 L502.8,1326.7 L496.8,1332.4 L492.8,1335.9 L486.8,1340.8 L480.8,1345.3 L474.8,1349.4 L470.8,1351.9 L464.8,1355.4 L458.8,1358.6 L452.8,1361.5 L448.8,1363.2 L442.8,1365.6 L436.8,1367.7 L430.8,1369.6 L424.8,1371.2 L418.8,1372.7 L412.8,1373.9 L404.8,1375.3 L394.8,1376.7 L382.8,1377.9 L370.8,1378.8 L338.8,1380.8 L328.8,1381.7 L318.8,1382.8Z"/>
<path fill="#f0f" d="M315.6,1379.5 L325.6,1378.4 L335.6,1377.6 L367.6,1375.5 L379.6,1374.6 L391.6,1373.4 L401.6,1372.0 L409.6,1370.6 L415.6,1369.4 L421.6,1368.0 L427.6,1366.3 L433.6,1364.5 L439.6,1362.4 L445.6,1360.0 L449.6,1358.2 L455.6,1355.4 L461.6,1352.2 L467.6,1348.7 L471.6,1346.1 L477.6,1342.0 L483.6,1337.5 L489.6,1332.6 L493.6,1329.1 L499.6,1323.5 L503.6,1319.5 L509.5,1313.1 L513.5,1308.6 L519.5,1301.4 L523.5,1296.3 L529.5,1288.3 L533.5,1282.6 L537.5,1276.7 L541.5,1270.5 L545.5,1264.0 L549.5,1257.3 L553.5,1250.4 L557.5,1243.1 L561.5,1235.6 L565.5,1227.8 L569.5,1219.7 L573.5,1211.3 L577.5,1202.6 L581.5,1193.5 L589.5,1174.6 L597.5,1154.5 L603.5,1138.7 L611.5,1116.9 L619.5,1094.3 L627.5,1071.0 L635.5,1047.1 L643.5,1022.7 L671.5,936.3 L685.5,893.6 L699.5,852.0 L711.5,817.7 L719.5,795.6 L725.5,779.5 L733.5,758.7 L739.5,743.8 L745.5,729.3 L751.5,715.4 L757.5,702.1 L763.5,689.4 L767.5,681.2 L771.5,673.4 L777.5,662.1 L781.5,655.0 L785.5,648.1 L791.5,638.3 L797.5,629.1 L801.5,623.4 L805.5,617.9 L811.5,610.1 L815.5,605.3 L819.5,600.7 L823.5,596.3 L827.5,592.1 L831.5,588.2 L835.5,584.4 L839.5,580.9 L843.5,577.5 L847.5,574.3 L851.5,571.3 L859.5,565.7 L863.5,563.1 L869.5,559.4 L877.5,555.0 L881.5,553.0 L887.5,550.2 L893.5,547.7 L901.5,544.7 L907.5,542.7 L915.5,540.4 L921.5,538.9 L929.5,537.1 L937.5,535.7 L945.5,534.5 L953.5,533.6 L963.5,532.7 L973.5,532.1 L983.5,531.7 L993.5,531.6 L1003.5,531.7 L1013.5,532.0 L1025.5,532.6 L1033.5,533.1 L1043.5,534.0 L1053.5,535.0 L1063.5,536.2 L1073.5,537.5 L1083.5,538.9 L1093.5,540.5 L1105.5,542.6 L1127.5,546.7 L1151.5,551.7 L1177.5,557.4 L1237.5,570.9 L1255.5,574.8 L1271.5,578.0 L1289.5,581.4 L1305.5,584.0 L1321.5,586.3 L1337.5,588.1 L1353.5,589.5 L1361.5,590.0 L1371.5,590.5 L1387.5,590.9 L1395.5,591.0 L1405.5,590.9 L1421.5,590.5 L1437.5,589.7 L1451.5,588.7 L1481.5,586.4 L1495.5,585.5 L1503.5,585.2 L1509.5,585.1 L1521.5,585.2 L1529.5,585.6 L1537.5,586.0 L1553.5,587.4 L1569.5,589.1 L1611.5,594.2 L1623.5,595.4 L1633.5,596.4 L1645.5,597.3 L1655.5,597.9 L1665.5,598.2 L1673.5,598.2 L1685.5,598.0 L1695.5,597.4 L1707.5,596.3 L1721.5,594.5 L1733.5,592.7 L1745.5,590.7 L1787.5,582.9 L1805.5,579.8 L1821.5,577.4 L1829.5,576.4 L1839.5,575.3 L1847.5,574.5 L1857.5,573.7 L1867.5,573.0 L1877.5,572.5 L1895.5,571.8 L1933.5,571.0 L1951.5,570.5 L1969.5,569.6 L1985.5,568.5 L1999.5,567.1 L2015.5,565.1 L2031.5,562.9 L2075.6,556.3 L2089.6,554.4 L2103.6,552.7 L2117.6,551.2 L2131.6,549.9 L2145.6,548.8 L2159.6,548.0 L2166.1,548.0 L2152.1,548.8 L2138.1,549.9 L2124.1,551.2 L2110.1,552.7 L2096.1,554.4 L2082.1,556.3 L2038.0,562.9 L2022.0,565.1 L2006.0,567.1 L1992.0,568.5 L1976.0,569.6 L1958.0,570.5 L1940.0,571.0 L1902.0,571.8 L1884.0,572.5 L1874.0,573.0 L1864.0,573.7 L1854.0,574.5 L1846.0,575.3 L1836.0,576.4 L1828.0,577.4 L1812.0,579.8 L1794.0,582.9 L1752.0,590.7 L1740.0,592.7 L1728.0,594.5 L1714.0,596.3 L1702.0,597.4 L1692.0,598.0 L1680.0,598.2 L1672.0,598.2 L1662.0,597.9 L1652.0,597.3 L1640.0,596.4 L1630.0,595.4 L1618.0,594.2 L1576.0,589.1 L1560.0,587.4 L1544.0,586.0 L1536.0,585.6 L1528.0,585.2 L1516.0,585.1 L1510.0,585.2 L1502.0,585.5 L1488.0,586.4 L1458.0,588.7 L1444.0,589.7 L1428.0,590.5 L1412.0,590.9 L1402.0,591.0 L1394.0,590.9 L1378.0,590.5 L1368.0,590.0 L1360.0,589.5 L1344.0,588.1 L1328.0,586.3 L1312.0,584.0 L1296.0,581.4 L1278.0,578.0 L1262.0,574.8 L1244.0,570.9 L1184.0,557.4 L1158.0,551.7 L1134.0,546.7 L1112.0,542.6 L1100.0,540.5 L1090.0,538.9 L1080.0,537.5 L1070.0,536.2 L1060.0,535.0 L1050.0,534.0 L1040.0,533.1 L1032.0,532.6 L1020.0,532.0 L1010.0,531.7 L1000.0,531.6 L990.0,531.7 L980.0,532.1 L970.0,532.7 L960.0,533.6 L952.0,534.5 L944.0,535.7 L936.0,537.1 L928.0,538.9 L922.0,540.4 L914.0,542.7 L908.0,544.7 L900.0,547.7 L894.0,550.2 L888.0,553.0 L884.0,555.0 L876.0,559.4 L870.0,563.1 L866.0,565.7 L858.0,571.3 L854.0,574.3 L850.0,577.5 L846.0,580.9 L842.0,584.4 L838.0,588.2 L834.0,592.1 L830.0,596.3 L826.0,600.7 L822.0,605.3 L818.0,610.1 L812.0,617.9 L808.0,623.4 L804.0,629.1 L798.0,638.3 L792.0,648.1 L788.0,655.0 L784.0,662.1 L778.0,673.4 L774.0,681.2 L770.0,689.4 L764.0,702.1 L758.0,715.4 L752.0,729.3 L746.0,743.8 L740.0,758.7 L732.0,779.5 L726.0,795.6 L718.0,817.7 L706.0,852.0 L692.0,893.6 L678.0,936.3 L650.0,1022.7 L642.0,1047.1 L634.0,1071.0 L626.0,1094.3 L618.0,1116.9 L610.0,1138.7 L604.0,1154.5 L596.0,1174.6 L588.0,1193.5 L584.0,1202.6 L580.0,1211.3 L576.0,1219.7 L572.0,1227.8 L568.0,1235.6 L564.0,1243.1 L560.0,1250.4 L556.0,1257.3 L552.0,1264.0 L548.0,1270.5 L544.0,1276.7 L540.0,1282.6 L536.0,1288.3 L530.0,1296.3 L526.0,1301.4 L520.0,1308.6 L516.0,1313.1 L510.1,1319.5 L506.1,1323.5 L500.1,1329.1 L496.1,1332.6 L490.1,1337.5 L484.1,1342.0 L478.1,1346.1 L474.1,1348.7 L468.1,1352.2 L462.1,1355.4 L456.1,1358.2 L452.1,1360.0 L446.1,1362.4 L440.1,1364.5 L434.1,1366.3 L428.1,1368.0 L422.1,1369.4 L416.1,1370.6 L408.1,1372.0 L398.1,1373.4 L386.1,1374.6 L374.1,1375.5 L342.1,1377.6 L332.1,1378.4 L322.1,1379.5Z"/>
</g>
<text transform="translate(318.9,1485.4) scale(1,1.045)" font-size="64" text-anchor="middle">0</text>
<text transform="translate(625.8,1485.4) scale(1,1.045)" font-size="64" text-anchor="middle">10</text>
<text transform="translate(932.6,1485.4) scale(1,1.045)" font-size="64" text-anchor="middle">20</text>
<text transform="translate(1239.5,1485.4) scale(1,1.045)" font-size="64" text-anchor="middle">30</text>
<text transform="translate(1546.4,1485.4) scale(1,1.045)" font-size="64" text-anchor="middle">40</text>
<text transform="translate(1853.2,1485.4) scale(1,1.045)" font-size="64" text-anchor="middle">50</text>
<text transform="translate(2160.1,1485.4) scale(1,1.045)" font-size="64" text-anchor="middle">60</text>
<text transform="translate(273.4,1405.8) scale(1,1.035)" font-size="64" text-anchor="end">0.0</text>
<text transform="translate(273.4,1145.3) scale(1,1.035)" font-size="64" text-anchor="end">0.2</text>
<text transform="translate(273.4,884.7) scale(1,1.035)" font-size="64" text-anchor="end">0.4</text>
<text transform="translate(273.4,624.2) scale(1,1.035)" font-size="64" text-anchor="end">0.6</text>
<text transform="translate(273.4,363.6) scale(1,1.035)" font-size="64" text-anchor="end">0.8</text>
<text transform="translate(273.4,103.1) scale(1,1.035)" font-size="64" text-anchor="end">1.0</text>
<text transform="translate(1240.6,1606.2) scale(1,1.01)" font-size="78.4" text-anchor="middle">Time (s)</text>
<text transform="translate(76.6,753.6) rotate(-90) scale(1,1.03)" font-size="77" text-anchor="middle">Normalized SPRi signal (-)</text>
<rect x="1768.4" y="1030.6" width="365" height="319" fill="#fff" stroke="#000" stroke-width="2.7"/>
<path class="k" d="M1793.3,1072.6 H1938.3" stroke="#000"/>
<text transform="translate(1956.0,1094.3) scale(1,1.02)" font-size="65" text-anchor="start">Au3</text>
<path class="k" d="M1793.3,1153.0 H1938.3" stroke="#f00"/>
<text transform="translate(1956.0,1174.7) scale(1,1.02)" font-size="65" text-anchor="start">Au3C</text>
<path class="k" d="M1793.3,1233.4 H1938.3" stroke="#00f"/>
<text transform="translate(1956.0,1255.1) scale(1,1.02)" font-size="65" text-anchor="start">Au2</text>
<path class="k" d="M1793.3,1313.8 H1938.3" stroke="#f0f"/>
<text transform="translate(1956.0,1335.5) scale(1,1.02)" font-size="65" text-anchor="start">Au2C</text>
</g></svg></body></html>
